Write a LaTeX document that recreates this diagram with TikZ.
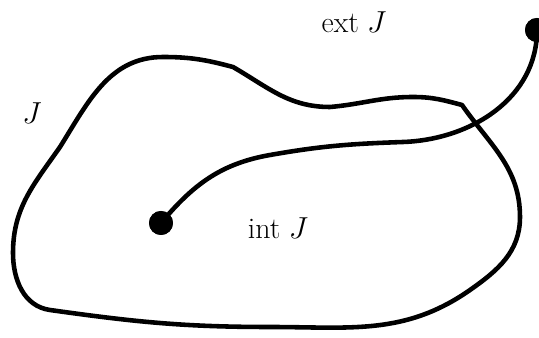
\documentclass[tikz,border=0pt]{standalone}
\usepackage{amsmath,amssymb}
\usetikzlibrary{calc}
\tikzset{
  jline/.style={draw=black, line width=2.6pt, line join=round, line cap=round},
  pathline/.style={jline},
  dot/.style={circle, fill=black, draw=none, minimum size=0.48cm, inner sep=0pt},
  lbl/.style={font=\fontsize{17}{20}\selectfont, inner sep=1pt},
}
\begin{document}
\begin{tikzpicture}[x=0.02cm, y=0.02cm]
\useasboundingbox (0,0) rectangle (539,338);

%% ============================================================
%% THE CLOSED CURVE J
%% ============================================================
\draw[jline]
  (163,281) to[out=0, in=165]
  (233,271) to[out=-30, in=180]
  (330,231) to[out=5, in=180]
  (413,241) to[out=0, in=165]
  (462,233) to[out=-55, in=90]
  (520,121) to[out=-90, in=35]
  (470,48)  to[out=-145, in=0]
  (270,11)  to[out=180, in=-8]
  (50,28)   to[out=172, in=-90]
  (13,85)   to[out=90, in=-125]
  (60,191)  to[out=58, in=180]
  cycle;

%% ============================================================
%% END POINTS AND WAYPOINTS OF THE PATH
%% ============================================================
\node[dot] (inner) at (161,115) {};
\node[dot] (outer) at (537,308) {};
\coordinate (w1) at (270,183);
\coordinate (w2) at (403,196);

% path from the interior point to the exterior point
\draw[pathline]
  (inner.center) to[out=50, in=190]
  (w1) to[out=10, in=182]
  (w2) to[out=2, in=-90]
  (outer.center);
\node[dot] at (inner) {};
\node[dot] at (outer) {};

%% ============================================================
%% LABELS
%% ============================================================
\node[lbl] (lblJ)   at (32,225)  {$J$};
\node[lbl] (lblext) at (354,316) {ext\;$J$};
\node[lbl] (lblint) at (278,110) {int\;$J$};

\end{tikzpicture}
\end{document}
